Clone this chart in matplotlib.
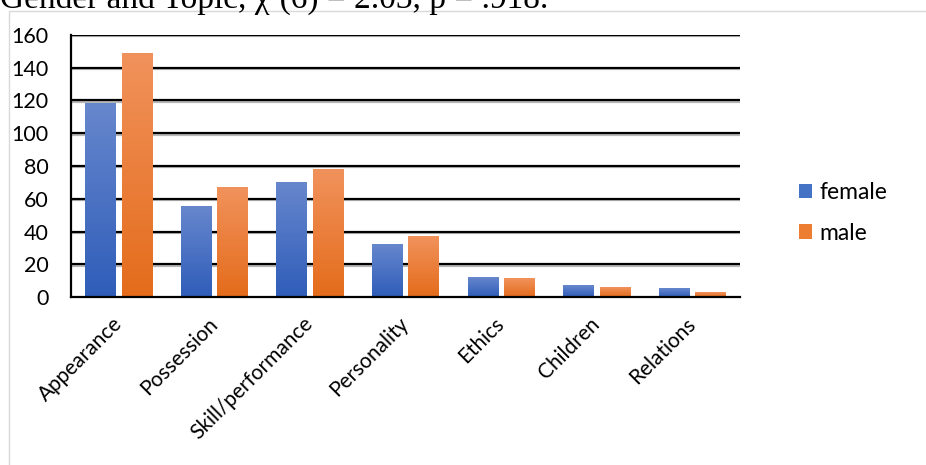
#!/usr/bin/env python3
"""Grouped bar chart: topic counts by gender (female / male)."""

import numpy as np
import matplotlib

matplotlib.use("Agg")
import matplotlib.pyplot as plt
import matplotlib.patheffects as pe
from matplotlib.colors import LinearSegmentedColormap
from matplotlib.patches import Patch, Rectangle

topics = ["Appearance", "Possession", "Skill/performance", "Personality",
          "Ethics", "Children", "Relations"]
female = [118, 55, 70, 32, 12, 7, 5]
male = [149, 67, 78, 37, 11, 6, 3]
series_names = ["female", "male"]
y_ticks = [0, 20, 40, 60, 80, 100, 120, 140, 160]
caption = "Gender and Topic, \u03c7\u00b2(6) = 2.03, p = .918."

# (bottom colour, top colour) for the Excel-style gradient fill
gradients = {
    "female": ("#2F5DB9", "#6787CD"),
    "male": ("#E46C1B", "#F1925C"),
}

W, H = 926, 465
plt.rcParams["font.family"] = ["Lato", "DejaVu Sans"]

fig = plt.figure(figsize=(W / 100, H / 100), dpi=100)

# chart-area border (only left/top edges fall inside the crop)
fig.patches.append(Rectangle((8.5 / W, -0.1), 1.2, 1.1 - 11.5 / H,
                             transform=fig.transFigure, fill=False,
                             edgecolor="#D9D9D9", lw=1.0))

# caption cut off at the top of the crop
fig.text(0.0, 1 - 8 / H, caption, family=["Liberation Serif", "DejaVu Serif"],
         fontsize=24, va="baseline", ha="left", color="black")

ax = fig.add_axes([71 / W, 1 - 297 / H, (740 - 71) / W, (297 - 35) / H])

x = np.arange(len(topics))
bw = 0.32
off = 0.19
bars_f = ax.bar(x - off, female, bw, color="none", zorder=3)
bars_m = ax.bar(x + off, male, bw, color="none", zorder=3)

grad = np.linspace(0, 1, 256).reshape(-1, 1)
for name, bars in zip(series_names, [bars_f, bars_m]):
    cmap = LinearSegmentedColormap.from_list(name, list(gradients[name]))
    for b in bars:
        x0, w, h = b.get_x(), b.get_width(), b.get_height()
        ax.imshow(grad, cmap=cmap, origin="lower", aspect="auto",
                  extent=(x0, x0 + w, 0, h), zorder=3, interpolation="bilinear")

ax.set_xlim(-0.5, len(topics) - 0.5)
ax.set_ylim(0, 160)
ax.set_yticks(y_ticks)
ax.set_xticks(x)
ax.set_xticklabels(topics, rotation=45, ha="right", va="center",
                   rotation_mode="anchor", fontsize=15)
ax.tick_params(axis="x", length=0, pad=17)
ax.tick_params(axis="y", length=0, pad=16, labelsize=15.5)

for s in ["top", "right"]:
    ax.spines[s].set_visible(False)
for s in ["left", "bottom"]:
    ax.spines[s].set_color("black")
    ax.spines[s].set_linewidth(1.6)
    ax.spines[s].set_zorder(4)

shadow = [pe.SimpleLineShadow(offset=(0, -1), shadow_color="#888888", alpha=0.6),
          pe.Normal()]
for v in y_ticks[1:]:
    ax.axhline(v, color="black", lw=1.6, zorder=1, path_effects=shadow)

handles = [Patch(facecolor="#4472C4"), Patch(facecolor="#ED7D31")]
fig.legend(handles, series_names, loc="center left",
           bbox_to_anchor=(778 / W, 1 - 213 / H), frameon=False,
           fontsize=16.5, handlelength=0.6, handleheight=0.6,
           handletextpad=0.3, labelspacing=0.85)

fig.savefig("out.png", dpi=100)
